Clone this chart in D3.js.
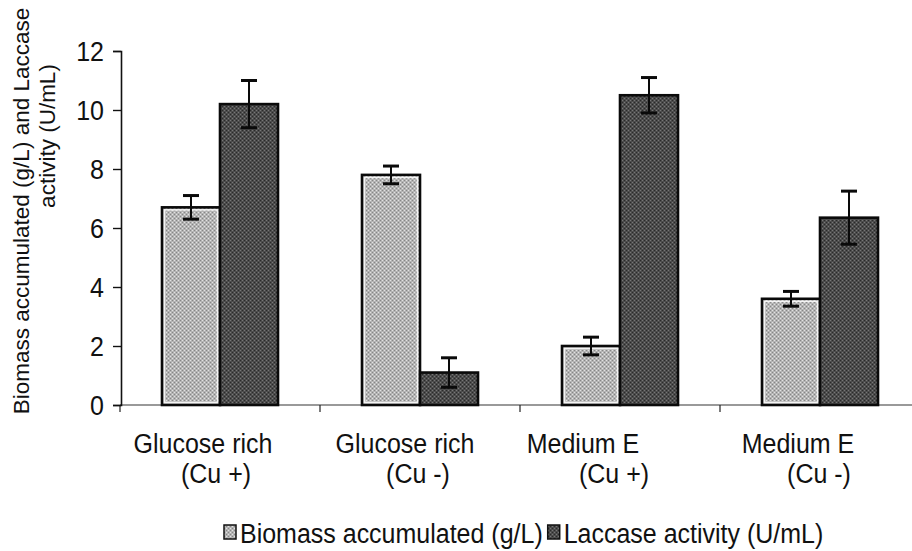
<!DOCTYPE html>
<html>
<head>
<meta charset="utf-8">
<script src="https://cdn.jsdelivr.net/npm/d3@7"></script>
<style>
  html, body { margin: 0; padding: 0; background: #fff; }
  svg { display: block; font-family: "Liberation Sans", Arial, sans-serif; }
</style>
</head>
<body>
<svg id="chart" width="912" height="551"></svg>
<script>
// Culture media and copper condition
const categories = ["Glucose rich|(Cu +)", "Glucose rich|(Cu -)", "Medium E|(Cu +)", "Medium E|(Cu -)"];
const seriesNames = ["Biomass accumulated (g/L)", "Laccase activity (U/mL)"];
const biomass = [6.7, 7.8, 2.0, 3.6];
const biomassErr = [0.4, 0.3, 0.3, 0.25];
const laccase = [10.2, 1.1, 10.5, 6.35];
const laccaseErr = [0.8, 0.5, 0.6, 0.9];
const yTicks = [0, 2, 4, 6, 8, 10, 12];

const svg = d3.select("#chart");
const STRETCH = 1.13; // text glyphs are drawn slightly tall

const x0 = d3.scaleBand().domain(categories).range([120, 920]).padding(0);
const x1 = d3.scaleBand().domain(seriesNames).range([42, 158]).padding(0);
const y = d3.scaleLinear().domain([0, 12]).range([405, 51]);

// Grainy fills for the bars
const defs = svg.append("defs");
function grain(id, base, dots) {
  const p = defs.append("pattern").attr("id", id).attr("patternUnits", "userSpaceOnUse")
    .attr("width", 4).attr("height", 4);
  p.append("rect").attr("width", 4).attr("height", 4).attr("fill", base);
  p.append("rect").attr("x", 0).attr("y", 0).attr("width", 1).attr("height", 1).attr("fill", dots[0]);
  p.append("rect").attr("x", 2).attr("y", 2).attr("width", 1).attr("height", 1).attr("fill", dots[0]);
  p.append("rect").attr("x", 2).attr("y", 0).attr("width", 1).attr("height", 1).attr("fill", dots[1]);
  p.append("rect").attr("x", 0).attr("y", 2).attr("width", 1).attr("height", 1).attr("fill", dots[1]);
}
grain("g0", "#b4b4b4", ["#868686", "#e2e2e2"]);
grain("g1", "#4c4c4c", ["#2a2a2a", "#777777"]);

// helper: tall text placed at (x, y)
function tallText(g, x, yy, str, anchor) {
  return g.append("text")
    .attr("transform", `translate(${x},${yy}) scale(1,${STRETCH})`)
    .attr("text-anchor", anchor || "start")
    .text(str);
}

// x axis baseline
svg.append("line").attr("x1", 120).attr("x2", 912).attr("y1", y(0)).attr("y2", y(0))
  .attr("stroke", "#777").attr("stroke-width", 1.5);
// category separators
svg.append("g").selectAll("line").data(categories.concat(["end"]))
  .join("line")
  .attr("x1", (d, i) => 120 + i * x0.step()).attr("x2", (d, i) => 120 + i * x0.step())
  .attr("y1", y(0)).attr("y2", y(0) + 7)
  .attr("stroke", "#222").attr("stroke-width", 1.2);

// y axis
const yAxis = d3.axisLeft(y).tickValues(yTicks).tickSize(8).tickPadding(9).tickFormat(d3.format("d"));
const ya = svg.append("g").attr("transform", "translate(121,0)").call(yAxis);
ya.select(".domain").attr("stroke", "#111").attr("stroke-width", 1.6);
ya.selectAll(".tick line").attr("stroke", "#111").attr("stroke-width", 1.4);
ya.selectAll(".tick text").attr("font-size", 25).attr("fill", "#111").attr("dy", "0.34em")
  .attr("transform", `scale(1,${STRETCH})`)
  .style("font-family", "'Liberation Sans', Arial, sans-serif");

// bars
const rows = categories.map((c, i) => [
  { cat: c, s: seriesNames[0], v: biomass[i], e: biomassErr[i], k: 0 },
  { cat: c, s: seriesNames[1], v: laccase[i], e: laccaseErr[i], k: 1 }
]).flat();

const bars = svg.append("g");
bars.selectAll("rect.bar").data(rows).join("rect")
  .attr("class", "bar")
  .attr("x", d => x0(d.cat) + x1(d.s))
  .attr("y", d => y(d.v))
  .attr("width", x1.bandwidth())
  .attr("height", d => y(0) - y(d.v))
  .attr("fill", d => `url(#g${d.k})`)
  .attr("stroke", "#0a0a0a").attr("stroke-width", 2.6);
// inner white rim on the light bars
bars.selectAll("rect.rim").data(rows.filter(d => d.k === 0)).join("rect")
  .attr("class", "rim")
  .attr("x", d => x0(d.cat) + x1(d.s) + 2.5)
  .attr("y", d => y(d.v) + 2.5)
  .attr("width", x1.bandwidth() - 5)
  .attr("height", d => y(0) - y(d.v) - 5)
  .attr("fill", "none").attr("stroke", "#f4f4f4").attr("stroke-width", 1.5);

// error bars
const eb = svg.append("g").attr("stroke", "#0a0a0a");
rows.forEach(d => {
  const cx = x0(d.cat) + x1(d.s) + x1.bandwidth() / 2;
  eb.append("line").attr("x1", cx).attr("x2", cx).attr("y1", y(d.v + d.e)).attr("y2", y(d.v - d.e)).attr("stroke-width", 2);
  [d.v + d.e, d.v - d.e].forEach(v => {
    eb.append("line").attr("x1", cx - 8).attr("x2", cx + 8).attr("y1", y(v)).attr("y2", y(v)).attr("stroke-width", 3);
  });
});

// category labels (two lines each)
const line1dx = [-17, -15, -37, -22];
const line2dx = [-4, -2, -6, -1];
const xl = svg.append("g").attr("font-size", 25).attr("fill", "#111");
categories.forEach((c, i) => {
  const [a, b] = c.split("|");
  const cx = x0(c) + x0.bandwidth() / 2;
  tallText(xl, cx + line1dx[i], 453, a, "middle");
  tallText(xl, cx + line2dx[i], 483, b, "middle");
});

// y axis title (two rotated lines)
const yt = svg.append("g").attr("font-size", 22.5).attr("fill", "#111").attr("text-anchor", "middle");
yt.append("text").attr("transform", "translate(29,211) rotate(-90)")
  .text("Biomass accumulated (g/L) and Laccase");
yt.append("text").attr("transform", "translate(55,136) rotate(-90)")
  .text("activity (U/mL)");

// legend
const lg = svg.append("g").attr("font-size", 25).attr("fill", "#111");
let lx = 224;
seriesNames.forEach((s, i) => {
  lg.append("rect").attr("x", lx).attr("y", 525).attr("width", 12).attr("height", 14)
    .attr("fill", `url(#g${i})`).attr("stroke", "#111").attr("stroke-width", 1.5);
  const t = tallText(lg, lx + 16, 543, s);
  lx += 16 + t.node().getComputedTextLength() + 5;
});
</script>
</body>
</html>
